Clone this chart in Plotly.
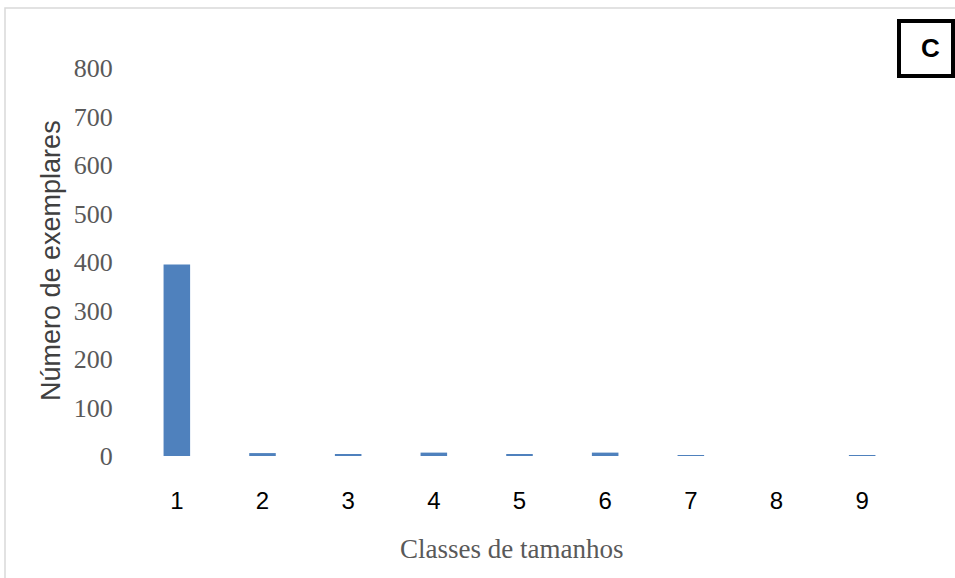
import plotly.graph_objects as go

categories = ["1", "2", "3", "4", "5", "6", "7", "8", "9"]
values = [395, 6, 4, 7, 4, 7, 1, 0, 1]
y_ticks = [0, 100, 200, 300, 400, 500, 600, 700, 800]

W, H = 955, 578
L, R, T, B = 134, 50, 68, 122
pw, ph = W - L - R, H - T - B

def px(x):
    return (x - L) / pw

def py(y):
    return (H - B - y) / ph

fig = go.Figure(go.Bar(x=categories, y=values, marker=dict(color="#4f81bd", line=dict(width=0)),
                       width=0.31))

fig.update_layout(
    width=W, height=H,
    margin=dict(l=L, r=R, t=T, b=B),
    plot_bgcolor="white", paper_bgcolor="white",
    showlegend=False,
    xaxis=dict(type="category", showgrid=False, showline=False, zeroline=False,
               ticks="outside", ticklen=23, tickcolor="rgba(0,0,0,0)",
               tickfont=dict(family="Liberation Sans, Arial", size=24, color="#000000")),
    yaxis=dict(range=[0, 800], tickvals=y_ticks, showgrid=False, showline=False, zeroline=False,
               ticks="outside", ticklen=15, tickcolor="rgba(0,0,0,0)",
               tickfont=dict(family="Liberation Serif", size=26, color="#595959")),
    annotations=[
        dict(text="Classes de tamanhos", xref="paper", yref="paper", x=px(511), y=py(549),
             showarrow=False, font=dict(family="Liberation Serif", size=27, color="#595959"),
             xanchor="center", yanchor="middle"),
        dict(text="Número de exemplares", xref="paper", yref="paper", x=px(51), y=py(261),
             showarrow=False, textangle=-90, font=dict(family="Liberation Sans, Arial", size=27, color="#404040"),
             xanchor="center", yanchor="middle"),
        dict(text="<b>C</b>", xref="paper", yref="paper", x=px(930), y=py(48),
             showarrow=False, font=dict(family="Liberation Sans, Arial", size=26, color="#000000"),
             xanchor="center", yanchor="middle"),
    ],
    shapes=[
        dict(type="rect", xref="paper", yref="paper", x0=px(5), x1=px(1000), y0=py(700), y1=py(8),
             line=dict(color="#d9d9d9", width=1.5), fillcolor="rgba(0,0,0,0)", layer="below"),
        dict(type="rect", xref="paper", yref="paper", x0=px(899), x1=px(953), y0=py(76), y1=py(21),
             line=dict(color="#000000", width=4), fillcolor="white"),
    ],
)

fig.write_html("out.html", config={"displayModeBar": False},
               post_script="document.body.style.margin='0';document.body.style.overflow='hidden';")
